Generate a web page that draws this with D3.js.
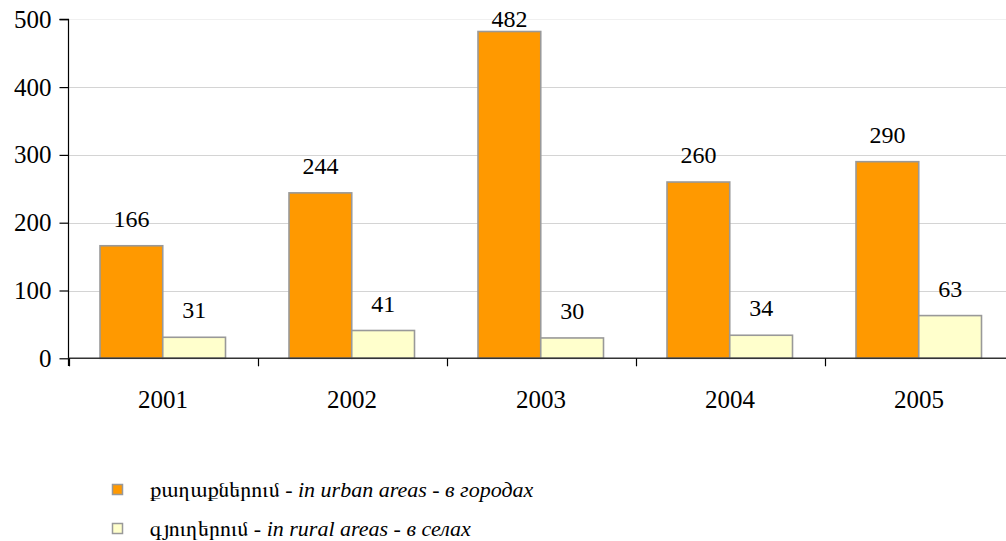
<!DOCTYPE html>
<html><head><meta charset="utf-8">
<script src="https://cdn.jsdelivr.net/npm/d3@7"></script>
<style>
body{margin:0;background:#fff;}
svg{display:block;}
</style></head>
<body><svg id="c" width="1006" height="541"></svg>
<script>
const categories = ["2001","2002","2003","2004","2005"];
const urban = [166,244,482,260,290];
const rural = [31,41,30,34,63];
const yTicks = [0,100,200,300,400,500];
const seriesNames = ["urban","rural"];
const seriesColors = ["#FF9900","#FFFFCC"];
// [text, italic, armenian]
const legendLabels = [
  [["քաղաքներում",false,true],[" - ",false,false],["in urban areas",true,false],[" - ",false,false],["в городах",true,false]],
  [["գյուղերում",false,true],[" - ",false,false],["in rural areas",true,false],[" - ",false,false],["в селах",true,false]]
];
const FONT = '"Liberation Serif"';
const ARM = '"FreeSerif"';

const svg = d3.select("#c");
const x0 = d3.scaleBand().domain(categories).range([68.5, 1013.5]);
const x1 = d3.scaleBand().domain(seriesNames).range([31.5, 157]);
const y = d3.scaleLinear().domain([0,500]).range([358.3, 19.3]);

// gridlines
svg.append("g").selectAll("line").data(yTicks.filter(d=>d>0)).join("line")
  .attr("x1",68.5).attr("x2",1006)
  .attr("y1",d=>Math.round(y(d))+0.5).attr("y2",d=>Math.round(y(d))+0.5)
  .attr("stroke",d=>d===500?"#f0f0f0":"#d4d4d4").attr("stroke-width",1.2);

// bars
const data = categories.map((c,i)=>({c, vals:[urban[i], rural[i]]}));
const groups = svg.append("g").selectAll("g").data(data).join("g")
  .attr("transform",d=>`translate(${x0(d.c)},0)`);
groups.selectAll("rect").data(d=>d.vals.map((v,j)=>({v,s:seriesNames[j],j}))).join("rect")
  .attr("x",d=>x1(d.s)).attr("width",x1.bandwidth())
  .attr("y",d=>y(d.v)).attr("height",d=>y(0)-y(d.v))
  .attr("fill",d=>seriesColors[d.j]).attr("stroke","#999999").attr("stroke-width",1.6);
groups.selectAll("text").data(d=>d.vals.map((v,j)=>({v,s:seriesNames[j]}))).join("text")
  .attr("x",d=>x1(d.s)+x1.bandwidth()/2)
  .attr("y",d=>Math.max(y(d.v)-19,27))
  .attr("text-anchor","middle").attr("font-size",24).attr("font-family",FONT).attr("fill","#000")
  .text(d=>d.v);

// y axis
const yAxis = d3.axisLeft(y).tickValues(yTicks).tickSize(9).tickPadding(8).tickFormat(d3.format("d"));
const gy = svg.append("g").attr("transform","translate(68.5,0)").call(yAxis);
gy.attr("font-family",FONT);
gy.select(".domain").attr("d","M-9,19.3H0V366").attr("stroke","#000").attr("stroke-width",1.2);
gy.selectAll(".tick line").attr("stroke","#000").attr("stroke-width",1.2);
gy.selectAll("text").attr("font-size",25).attr("font-family",FONT).attr("fill","#000");

// x axis
const xAxis = d3.axisBottom(x0).tickSize(0).tickPadding(0);
const gx = svg.append("g").attr("transform",`translate(0,${y(0)})`).call(xAxis);
gx.attr("font-family",FONT);
gx.select(".domain").attr("d","M68.5,0H1006").attr("stroke","#333").attr("stroke-width",1.4);
gx.selectAll(".tick text").attr("y",50).attr("dy",null).attr("font-size",25).attr("font-family",FONT).attr("fill","#000");
const bounds = categories.map(c=>x0(c)).concat([x0.range()[1]]);
gx.selectAll(".bt").data(bounds).join("line").attr("class","bt")
  .attr("x1",d=>Math.round(d)+0.5).attr("x2",d=>Math.round(d)+0.5).attr("y1",0).attr("y2",8)
  .attr("stroke","#000").attr("stroke-width",1.2);

// legend
const lg = svg.append("g");
legendLabels.forEach((parts,i)=>{
  const yy = 497 + i*39;
  lg.append("rect").attr("x",112.5).attr("y",yy-12.5).attr("width",10).attr("height",10)
    .attr("fill",seriesColors[i]).attr("stroke","#999").attr("stroke-width",1.5);
  const t = lg.append("text").attr("x",150).attr("y",yy).attr("font-size",22).attr("font-family",FONT).attr("fill","#000");
  parts.forEach(p=>t.append("tspan").attr("font-family",p[2]?ARM:FONT)
    .attr("font-style",p[1]?"italic":"normal").text(p[0]));
});
</script></body></html>
